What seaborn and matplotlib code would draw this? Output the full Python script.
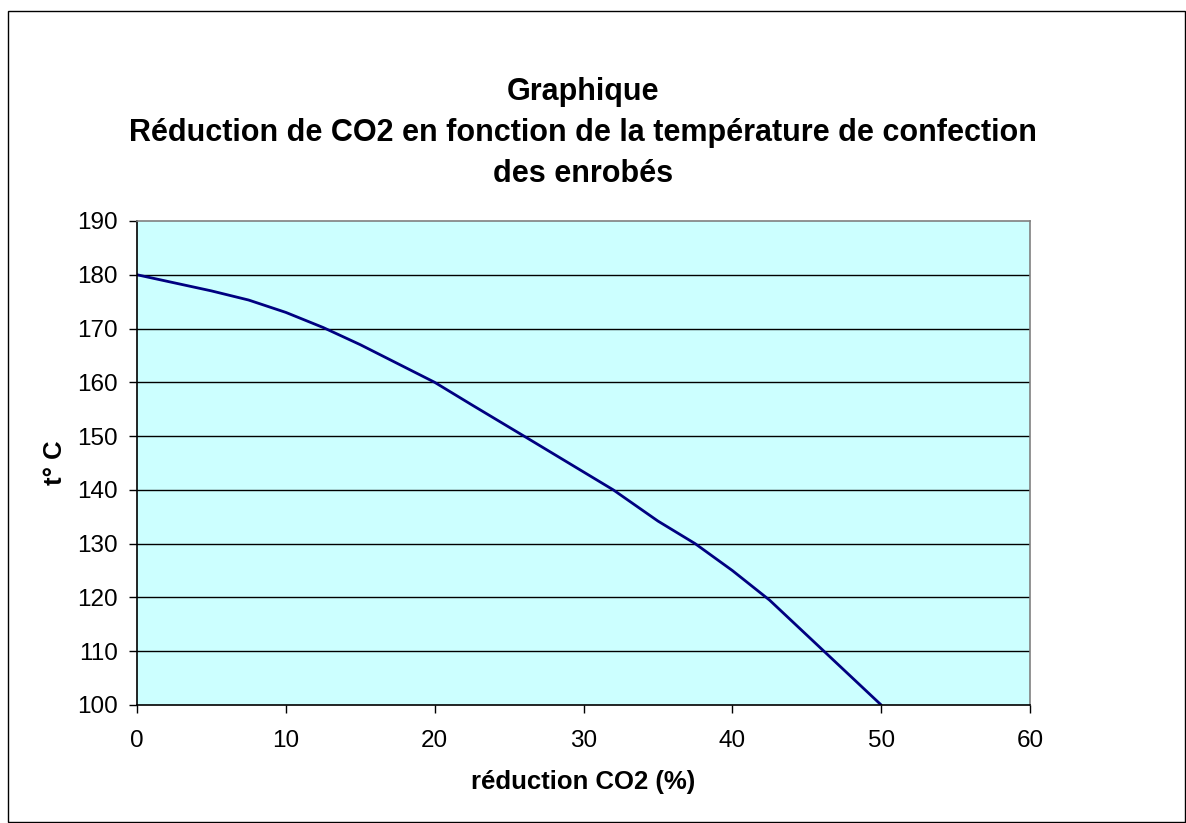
import matplotlib
matplotlib.use("Agg")
import matplotlib.pyplot as plt
import pandas as pd
import seaborn as sns
from matplotlib.patches import Rectangle

# values
reduction_co2 = [0, 5, 7.5, 10, 12.5, 15, 20, 22.5, 26, 32, 35, 37.5, 40, 42.5, 50]
temperature = [180, 177, 175.3, 173, 170.2, 167, 160, 155.8, 150, 140, 134.2, 130, 125, 119.5, 100]
x_ticks = [0, 10, 20, 30, 40, 50, 60]
y_ticks = [100, 110, 120, 130, 140, 150, 160, 170, 180, 190]

title = ("Graphique\n"
         "Réduction de CO2 en fonction de la température de confection\n"
         "des enrobés")

sns.set_theme(style="white")
plt.rcParams["font.family"] = ["Liberation Sans", "DejaVu Sans"]
plt.rcParams["text.color"] = "black"

df = pd.DataFrame({"reduction": reduction_co2, "temp": temperature})

fig = plt.figure(figsize=(11.86, 8.23), dpi=100)
ax = fig.add_axes([0.1155, 0.1434, 0.753, 0.5881])
ax.set_facecolor("#CCFFFF")

sns.lineplot(data=df, x="reduction", y="temp", color="#000080", linewidth=2,
             sort=False, ax=ax)

ax.set_xlim(0, 60)
ax.set_ylim(100, 190)
ax.set_xticks(x_ticks)
ax.set_yticks(y_ticks)
for v in y_ticks[1:-1]:
    ax.axhline(v, color="black", linewidth=1, zorder=1)

ax.tick_params(axis="both", direction="out", length=6, width=1, color="black",
               labelsize=17.5, labelcolor="black", bottom=True, left=True)
ax.tick_params(axis="x", pad=12)
ax.tick_params(axis="y", pad=8)

for side in ["top", "right"]:
    ax.spines[side].set_color("#808080")
    ax.spines[side].set_linewidth(1.2)
for side in ["left", "bottom"]:
    ax.spines[side].set_color("black")
    ax.spines[side].set_linewidth(1.2)

ax.set_xlabel("réduction CO2 (%)", fontsize=18.5, fontweight="bold",
              labelpad=13, color="black")
ax.set_ylabel("t° C", fontsize=18.5, fontweight="bold", labelpad=7,
              color="black")

fig.text(0.4916, 0.906, title, ha="center", va="top", fontsize=22,
         fontweight="bold", linespacing=1.48, color="black")

# chart area border
fig.patches.append(Rectangle((8 / 1186, 1 / 823), 1177 / 1186, 811 / 823,
                             transform=fig.transFigure, fill=False,
                             edgecolor="black", linewidth=1))

fig.savefig("out.png", dpi=100)
